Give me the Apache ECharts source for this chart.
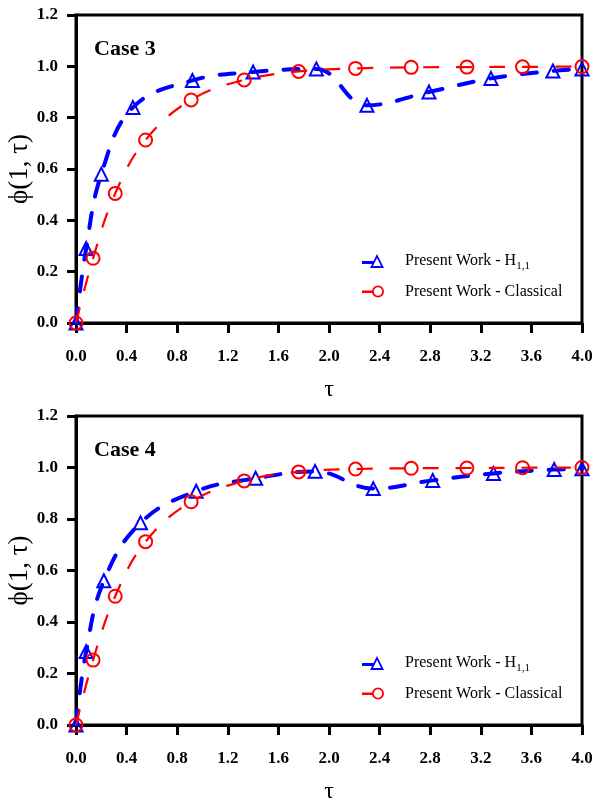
<!DOCTYPE html>
<html>
<head>
<meta charset="utf-8">
<title>phi(1,tau)</title>
<script src="https://cdn.jsdelivr.net/npm/echarts@6/dist/echarts.min.js"></script>
<style>
  html, body { margin: 0; padding: 0; background: #fff; }
  #chart { width: 593px; height: 801px; }
</style>
</head>
<body>
<div id="chart"></div>
<script>
// data
var xTicks = [0, 0.4, 0.8, 1.2, 1.6, 2.0, 2.4, 2.8, 3.2, 3.6, 4.0];
var yTicks = [0, 0.2, 0.4, 0.6, 0.8, 1.0, 1.2];

var case3TauH = [0, 0.08, 0.2, 0.45, 0.92, 1.4, 1.9, 2.3, 2.79, 3.28, 3.77, 4.0];
var case3PhiH = [0, 0.29, 0.58, 0.84, 0.945, 0.978, 0.99, 0.848, 0.9, 0.953, 0.982, 0.99];
var case3TauC = [0, 0.135, 0.31, 0.55, 0.91, 1.33, 1.76, 2.21, 2.65, 3.09, 3.53, 4.0];
var case3PhiC = [0, 0.252, 0.505, 0.713, 0.869, 0.947, 0.98, 0.992, 0.996, 0.997, 0.998, 0.999];

var case4TauH = [0, 0.08, 0.22, 0.51, 0.95, 1.42, 1.89, 2.35, 2.82, 3.3, 3.78, 4.0];
var case4PhiH = [0, 0.285, 0.56, 0.785, 0.908, 0.958, 0.985, 0.918, 0.95, 0.977, 0.992, 0.995];
var case4TauC = [0, 0.135, 0.31, 0.55, 0.91, 1.33, 1.76, 2.21, 2.65, 3.09, 3.53, 4.0];
var case4PhiC = [0, 0.252, 0.5, 0.712, 0.867, 0.948, 0.983, 0.994, 0.997, 0.998, 0.999, 1.0];

var nameH = 'Present Work - H1,1';
var nameC = 'Present Work - Classical';

var font = '"Liberation Serif", "Times New Roman", serif';

// legend icons: short line on the left, hollow marker on the right
var iconH = 'path://M0 7L12 7L12 10L0 10Z M8 14L15 0L22 14Z M11 12L19 12L15 4Z';
var iconC = 'path://M0 6L11 6L11 8.5L0 8.5Z M22 7A6 6 0 1 1 10 7A6 6 0 1 1 22 7Z M20.2 7A4.2 4.2 0 1 0 11.8 7A4.2 4.2 0 1 0 20.2 7Z';

function pairs(xs, ys) {
  return xs.map(function (x, i) { return [x, ys[i]]; });
}

function xAxisFor(idx) {
  return {
    gridIndex: idx,
    type: 'value',
    min: 0, max: 4, interval: 0.4,
    name: 'τ',
    nameLocation: 'middle',
    nameGap: 55,
    nameMoveOverlap: false,
    nameTextStyle: { fontFamily: font, fontSize: 24, color: '#000' },
    axisLine: { onZero: false, lineStyle: { color: '#000', width: 3 } },
    axisTick: { inside: false, length: 10, lineStyle: { color: '#000', width: 3 } },
    axisLabel: {
      margin: 25, color: '#000', fontFamily: font, fontWeight: 'bold', fontSize: 17,
      formatter: function (v) { return v.toFixed(1); }
    },
    splitLine: { show: false }
  };
}

function yAxisFor(idx) {
  return {
    gridIndex: idx,
    type: 'value',
    min: 0, max: 1.2, interval: 0.2,
    name: 'ϕ(1, τ)',
    nameLocation: 'middle',
    nameRotate: 90,
    nameGap: 43,
    nameMoveOverlap: false,
    nameTextStyle: { fontFamily: font, fontSize: 27, color: '#000' },
    axisLine: { onZero: false, lineStyle: { color: '#000', width: 3 } },
    axisTick: { inside: false, length: 9, lineStyle: { color: '#000', width: 3 } },
    axisLabel: {
      margin: 18, color: '#000', fontFamily: font, fontWeight: 'bold', fontSize: 17,
      formatter: function (v) { return v.toFixed(1); }
    },
    splitLine: { show: false }
  };
}

function blueSeries(idx, xs, ys) {
  return {
    name: nameH,
    type: 'line',
    xAxisIndex: idx, yAxisIndex: idx,
    data: pairs(xs, ys),
    smooth: 0.4,
    clip: false,
    symbol: 'triangle',
    symbolSize: 13,
    itemStyle: { color: 'rgba(255,255,255,0)', borderColor: '#0000ff', borderWidth: 2 },
    lineStyle: { color: '#0000ff', width: 4, type: [15, 17], cap: 'round' },
    z: 3
  };
}

function redSeries(idx, xs, ys) {
  return {
    name: nameC,
    type: 'line',
    xAxisIndex: idx, yAxisIndex: idx,
    data: pairs(xs, ys),
    smooth: 0.4,
    clip: false,
    symbol: 'circle',
    symbolSize: 13,
    itemStyle: { color: 'rgba(255,255,255,0)', borderColor: '#ff0000', borderWidth: 2 },
    lineStyle: { color: '#ff0000', width: 2.2, type: [16, 17] },
    z: 4
  };
}

function legendFor(top) {
  return {
    orient: 'vertical',
    left: 357,
    top: top,
    itemWidth: 22,
    itemHeight: 14,
    itemGap: 12,
    data: [
      { name: nameH, icon: iconH, itemStyle: { color: '#0000ff', borderWidth: 0 } },
      { name: nameC, icon: iconC, itemStyle: { color: '#ff0000', borderWidth: 0 } }
    ],
    formatter: function (n) {
      return n === nameH ? 'Present Work - H{sub|1,1}' : n;
    },
    textStyle: {
      fontFamily: font, fontSize: 16, color: '#000', padding: [0, 0, 0, 16],
      rich: {
        sub: { fontFamily: font, fontSize: 11, color: '#000', padding: [10, 0, 0, 0] }
      }
    }
  };
}

var chart = echarts.init(document.getElementById('chart'));
var option = {
  animation: false,
  backgroundColor: '#fff',
  title: [
    { text: 'Case 3', left: 89, top: 33, textStyle: { fontFamily: font, fontSize: 22, fontWeight: 'bold', color: '#000' } },
    { text: 'Case 4', left: 89, top: 434, textStyle: { fontFamily: font, fontSize: 22, fontWeight: 'bold', color: '#000' } }
  ],
  legend: [legendFor(248), legendFor(650)],
  grid: [
    { left: 76, top: 15, width: 506, height: 308, show: true, borderColor: '#000', borderWidth: 3, outerBoundsMode: 'none' },
    { left: 76, top: 416, width: 506, height: 309, show: true, borderColor: '#000', borderWidth: 3, outerBoundsMode: 'none' }
  ],
  xAxis: [xAxisFor(0), xAxisFor(1)],
  yAxis: [yAxisFor(0), yAxisFor(1)],
  series: [
    blueSeries(0, case3TauH, case3PhiH),
    redSeries(0, case3TauC, case3PhiC),
    blueSeries(1, case4TauH, case4PhiH),
    redSeries(1, case4TauC, case4PhiC)
  ]
};
chart.setOption(option);
</script>
</body>
</html>
